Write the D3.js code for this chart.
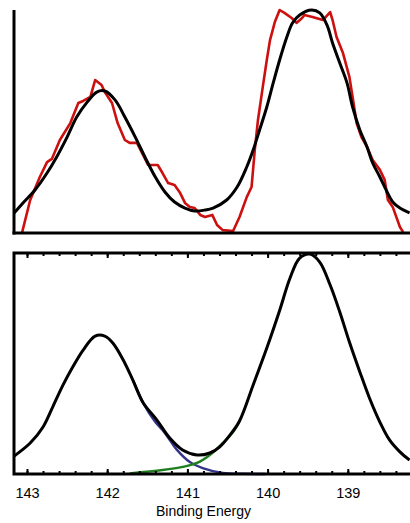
<!DOCTYPE html>
<html>
<head>
<meta charset="utf-8">
<script src="https://cdn.jsdelivr.net/npm/d3@7"></script>
<style>
  html, body { margin: 0; padding: 0; background: #fff; }
  svg { display: block; }
  text { font-family: "Liberation Sans", Arial, sans-serif; }
</style>
</head>
<body>
<svg id="chart" width="410" height="523"></svg>
<script>
// ---- Data (binding energy in eV, intensity in arbitrary units, 0-100) ----
// Top panel: measured spectrum (red)
const topDataBE = [143.06,142.96,142.84,142.75,142.69,142.59,142.46,142.36,142.30,142.21,142.15,142.07,142.03,141.94,141.87,141.78,141.72,141.63,141.57,141.49,141.37,141.31,141.24,141.16,141.09,141.03,140.97,140.91,140.84,140.78,140.69,140.63,140.56,140.43,140.35,140.26,140.20,140.16,140.12,140.06,140.01,139.97,139.91,139.85,139.79,139.70,139.64,139.57,139.54,139.44,139.31,139.22,139.19,139.14,139.06,138.98,138.94,138.89,138.83,138.76,138.69,138.60,138.54,138.50,138.44,138.35,138.31];
const topDataI  = [0.4,14.8,25.1,31.8,33.2,41.7,49.3,58.3,59.2,61.0,68.6,66.4,63.2,58.3,49.3,41.7,40.4,40.4,36.3,30.5,30.5,26.9,22.4,21.5,17.9,13.5,11.7,11.2,8.1,7.2,8.1,3.6,1.3,0.9,7.2,16.1,20.6,37.2,50.7,65.5,77.6,86.5,94.6,100,98.7,96.4,94.2,96.4,97.8,96.9,95.5,99.1,95.5,87.9,80.7,70.0,61.0,49.3,43.0,38.6,32.7,28.3,23.8,14.8,11.7,2.7,0.4];
// Top panel: fitted curve (black)
const topFitBE = [143.16,143.05,142.90,142.75,142.63,142.50,142.38,142.25,142.13,142.03,141.90,141.78,141.65,141.53,141.40,141.28,141.16,141.03,140.91,140.78,140.68,140.51,140.38,140.26,140.18,140.10,140.01,139.93,139.85,139.76,139.69,139.60,139.45,139.35,139.26,139.19,139.10,139.01,138.94,138.85,138.76,138.69,138.60,138.51,138.44,138.35,138.23];
const topFitI  = [9.0,13.5,19.3,26.9,34.1,43.0,52.0,58.7,63.2,63.7,59.6,52.0,43.0,34.1,25.1,18.4,13.9,11.2,9.9,10.3,11.2,14.8,20.6,29.6,37.2,46.2,56.5,67.3,77.6,87.9,94.2,97.8,100,98.7,93.3,85.2,76.2,67.3,56.5,46.2,38.6,31.4,25.1,18.4,13.9,11.2,9.0];
// Bottom panel: envelope (black)
const envBE = [143.16,142.96,142.80,142.68,142.55,142.43,142.30,142.15,142.03,141.93,141.80,141.68,141.55,141.38,141.22,141.06,140.88,140.72,140.60,140.47,140.35,140.18,140.01,139.85,139.72,139.60,139.47,139.35,139.22,139.10,138.98,138.85,138.73,138.60,138.48,138.35,138.23];
const envI  = [8.1,14.0,21.3,30.3,40.3,48.4,56.1,62.4,62.4,59.3,51.6,42.5,32.1,24.4,16.3,10.9,8.6,9.5,12.2,17.6,24.0,40.3,57.0,74.0,88.7,97.7,99.5,95.9,85.5,73.3,59.7,46.2,34.4,23.5,15.4,10.0,6.3];
// Bottom panel: component 1 (blue)
const comp1BE = [141.68,141.55,141.40,141.31,141.22,141.13,140.97,140.81,140.56,140.31,140.03];
const comp1I  = [42.5,32.1,23.5,19.9,15.4,10.9,5.4,2.7,0.5,0.1,0];
// Bottom panel: component 2 (green)
const comp2BE = [141.72,141.31,141.06,140.88,140.72,140.56,140.43,140.35];
const comp2I  = [0.3,1.8,3.2,5.0,8.6,14.0,19.0,24.0];
// Axis tick labels
const majorTicks = [143, 142, 141, 140, 139];
const minorTicks = [143.0,142.8,142.6,142.4,142.2,142.0,141.8,141.6,141.4,141.2,141.0,140.8,140.6,140.4,140.2,140.0,139.8,139.6,139.4,139.2,139.0,138.8,138.6,138.4,138.2];
const xLabel = "Binding Energy";

// ---- Layout ----
const svg = d3.select("#chart");
const x = d3.scaleLinear().domain([143.162, 138.0]).range([14, 428]);
const yTop = d3.scaleLinear().domain([0, 100]).range([233, 10]);
const yBot = d3.scaleLinear().domain([0, 100]).range([474, 253]);

const zip = (a, b) => a.map((v, i) => [v, b[i]]);

// ---- Top panel ----
const gTop = svg.append("g");
const lineTopLin = d3.line().x(d => x(d[0])).y(d => yTop(d[1]));
const lineTopSmooth = d3.line().x(d => x(d[0])).y(d => yTop(d[1])).curve(d3.curveCatmullRom.alpha(0.5));

gTop.append("path").datum(zip(topDataBE, topDataI))
  .attr("d", lineTopLin).attr("fill", "none")
  .attr("stroke", "#cc1010").attr("stroke-width", 2.6).attr("stroke-linejoin", "round");
gTop.append("path").datum(zip(topFitBE, topFitI))
  .attr("d", lineTopSmooth).attr("fill", "none")
  .attr("stroke", "#000").attr("stroke-width", 3);

// top panel axes (lines only)
const axTopLeft = gTop.append("g").attr("transform", "translate(14,0)")
  .call(d3.axisLeft(yTop).tickValues([]).tickSizeOuter(0));
const axTopBottom = gTop.append("g").attr("transform", "translate(0,233)")
  .call(d3.axisBottom(x).tickValues([]).tickSizeOuter(0));
[axTopLeft, axTopBottom].forEach(a => a.select(".domain").attr("stroke-width", 3).attr("stroke", "#000"));
axTopBottom.select(".domain").attr("d", "M12.5,0H430");
axTopLeft.select(".domain").attr("d", "M0,234.5V10");

// ---- Bottom panel ----
const gBot = svg.append("g");
const lineBot = d3.line().x(d => x(d[0])).y(d => yBot(d[1])).curve(d3.curveCatmullRom.alpha(0.5));

gBot.append("path").datum(zip(comp1BE, comp1I))
  .attr("d", lineBot).attr("fill", "none")
  .attr("stroke", "#34348a").attr("stroke-width", 2.4);
gBot.append("path").datum(zip(comp2BE, comp2I))
  .attr("d", lineBot).attr("fill", "none")
  .attr("stroke", "#1f7f1f").attr("stroke-width", 2.4);
gBot.append("path").datum(zip(envBE, envI))
  .attr("d", lineBot).attr("fill", "none")
  .attr("stroke", "#000").attr("stroke-width", 3);

// ticks: minor + major, inward, top and bottom
function styleAxis(g) {
  g.select(".domain").remove();
  g.selectAll(".tick line").attr("stroke", "#000").attr("stroke-width", 2);
}
gBot.append("g").attr("transform", "translate(0,474)")
  .call(d3.axisBottom(x).tickValues(minorTicks).tickSize(-3).tickFormat(""))
  .call(styleAxis);
gBot.append("g").attr("transform", "translate(0,253)")
  .call(d3.axisTop(x).tickValues(minorTicks).tickSize(-3).tickFormat(""))
  .call(styleAxis);
gBot.append("g").attr("transform", "translate(0,253)")
  .call(d3.axisTop(x).tickValues(majorTicks).tickSize(-5).tickFormat(""))
  .call(styleAxis);
const axMajor = gBot.append("g").attr("transform", "translate(0,474)")
  .call(d3.axisBottom(x).tickValues(majorTicks).tickSize(-5).tickPadding(14).tickFormat(d3.format("d")))
  .call(styleAxis);
axMajor.selectAll(".tick text")
  .attr("font-size", 14.5).attr("fill", "#000")
  .style("font-family", "'Liberation Sans', Arial, sans-serif");

// frame
gBot.append("rect")
  .attr("x", x.range()[0]).attr("y", yBot(100))
  .attr("width", x.range()[1] - x.range()[0]).attr("height", yBot(0) - yBot(100))
  .attr("fill", "none").attr("stroke", "#000").attr("stroke-width", 3);

// x-axis title
svg.append("text")
  .attr("x", 203.5).attr("y", 516)
  .attr("text-anchor", "middle")
  .attr("font-size", 14).attr("fill", "#000")
  .text(xLabel);
</script>
</body>
</html>
